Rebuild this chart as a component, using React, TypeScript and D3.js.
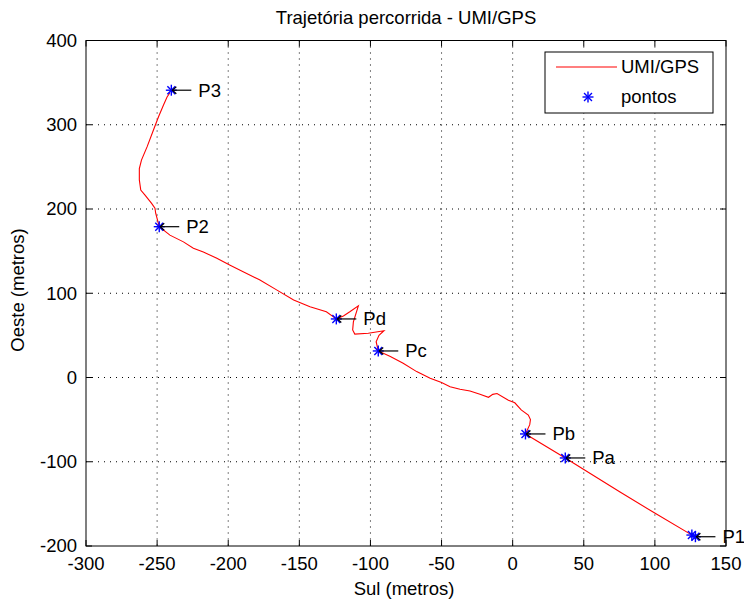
import React from "react";
import * as d3 from "d3";

const pathX = [127, 99, 75.5, 37, 9, 12, 12.5, 11, 6, 1.5, -3, -11, -14, -17, -23, -30, -37, -44, -50, -58, -67.5, -77, -86, -94.5, -96, -94, -90.5, -101.5, -111, -112.5, -112, -108.5, -114.5, -119, -124, -131, -142.5, -154, -166, -178, -189.5, -199, -208, -217.5, -224.5, -231.5, -241, -248.5, -251, -251.5, -254, -258.5, -261.5, -262.5, -262.5, -261, -257, -252.5, -249, -245.5, -243, -241];
const pathY = [-188, -160, -136, -95.5, -67, -56, -50, -44.5, -38.5, -30, -27, -19, -20, -23.5, -20, -16, -14, -11, -6, -1, 7, 17, 25, 31.5, 42.5, 50, 55.5, 52.5, 51.5, 56.5, 66, 85, 78, 73, 69.5, 78, 84, 92, 104, 116, 125.5, 133.5, 141.5, 149, 153.5, 161, 169, 179, 195, 201, 207, 216.5, 222.5, 234.5, 248, 258, 274, 294, 309.5, 323.5, 333, 338];

const pointX = [126, 128.5, 37, 9, -94.5, -124, -248.5, -240];
const pointY = [-187, -189, -95.5, -67, 31.5, 69.5, 179, 341];

const labelNames = ["P1", "Pa", "Pb", "Pc", "Pd", "P2", "P3"];
const labelX = [128.5, 37, 9, -94.5, -124, -248.5, -240];
const labelY = [-189, -95.5, -67, 31.5, 69.5, 179, 341];

const xTicks = [-300, -250, -200, -150, -100, -50, 0, 50, 100, 150];
const yTicks = [-200, -100, 0, 100, 200, 300, 400];

const titleText = "Trajetória percorrida - UMI/GPS";
const xLabel = "Sul (metros)";
const yLabel = "Oeste (metros)";
const legendNames = ["UMI/GPS", "pontos"];

const FONT = "'Liberation Sans', Arial, Helvetica, sans-serif";

function Star({ x, y, r = 5.5 }: { x: number; y: number; r?: number }) {
  const d = r * 0.72;
  return (
    <g stroke="#0000ff" strokeWidth={1.4}>
      <line x1={x - r} y1={y} x2={x + r} y2={y} />
      <line x1={x} y1={y - r} x2={x} y2={y + r} />
      <line x1={x - d} y1={y - d} x2={x + d} y2={y + d} />
      <line x1={x - d} y1={y + d} x2={x + d} y2={y - d} />
    </g>
  );
}

export default function App() {
  const L = 86, R = 726, T = 40.5, B = 546;
  const x = d3.scaleLinear().domain([-300, 150]).range([L, R]);
  const y = d3.scaleLinear().domain([-200, 400]).range([B, T]);

  const line = d3
    .line<number>()
    .x((_, i) => x(pathX[i]))
    .y((_, i) => y(pathY[i]));
  const pathD = line(pathX) || "";

  const tickLen = 6;
  const fs = 18.5;

  return (
    <svg
      width={744}
      height={603}
      style={{ position: "absolute", left: 0, top: 0, background: "#fff" }}
      fontFamily={FONT}
    >
      <rect x={0} y={0} width={744} height={603} fill="#fff" />
      {/* grid */}
      <g stroke="#000" strokeWidth={1} strokeDasharray="1,5">
        {xTicks.slice(1, -1).map((t) => (
          <line key={"gx" + t} x1={x(t)} x2={x(t)} y1={T} y2={B} />
        ))}
        {yTicks.slice(1, -1).map((t) => (
          <line key={"gy" + t} x1={L} x2={R} y1={y(t)} y2={y(t)} />
        ))}
      </g>
      {/* ticks */}
      <g stroke="#000" strokeWidth={1}>
        {xTicks.map((t) => (
          <g key={"tx" + t}>
            <line x1={x(t)} x2={x(t)} y1={B} y2={B - tickLen} />
            <line x1={x(t)} x2={x(t)} y1={T} y2={T + tickLen} />
          </g>
        ))}
        {yTicks.map((t) => (
          <g key={"ty" + t}>
            <line x1={L} x2={L + tickLen} y1={y(t)} y2={y(t)} />
            <line x1={R} x2={R - tickLen} y1={y(t)} y2={y(t)} />
          </g>
        ))}
      </g>
      {/* data */}
      <path d={pathD} fill="none" stroke="#ff0000" strokeWidth={1.1} />
      {pointX.map((px, i) => (
        <Star key={"s" + i} x={x(px)} y={y(pointY[i])} />
      ))}
      {/* annotations */}
      {labelNames.map((n, i) => {
        const cx = x(labelX[i]);
        const cy = y(labelY[i]);
        return (
          <g key={"a" + n}>
            <g stroke="#000" strokeWidth={1.2} fill="none">
              <line x1={cx + 1} y1={cy} x2={cx + 20} y2={cy} />
              <polyline points={`${cx + 5},${cy - 3.5} ${cx + 1},${cy} ${cx + 5},${cy + 3.5}`} />
            </g>
            <text x={cx + 27} y={cy} dy="0.35em" fontSize={fs} fill="#000">
              {n}
            </text>
          </g>
        );
      })}
      {/* box */}
      <rect x={L} y={T} width={R - L} height={B - T} fill="none" stroke="#000" strokeWidth={1} />
      {/* tick labels */}
      {xTicks.map((t) => (
        <text key={"lx" + t} x={x(t)} y={570} textAnchor="middle" fontSize={fs} fill="#000">
          {t}
        </text>
      ))}
      {yTicks.map((t) => (
        <text key={"ly" + t} x={77} y={y(t)} dy="0.35em" textAnchor="end" fontSize={fs} fill="#000">
          {t}
        </text>
      ))}
      {/* title & labels */}
      <text x={406} y={24} textAnchor="middle" fontSize={fs} fill="#000">
        {titleText}
      </text>
      <text x={404} y={595} textAnchor="middle" fontSize={fs} fill="#000">
        {xLabel}
      </text>
      <text
        transform={`translate(24,290) rotate(-90)`}
        textAnchor="middle"
        fontSize={fs}
        fill="#000"
      >
        {yLabel}
      </text>
      {/* legend */}
      <g>
        <rect x={545} y={52} width={168} height={61} fill="#fff" stroke="#000" strokeWidth={1} />
        <line x1={556} x2={617} y1={67} y2={67} stroke="#ff0000" strokeWidth={1.1} />
        <text x={621} y={67} dy="0.35em" fontSize={fs} fill="#000">
          {legendNames[0]}
        </text>
        <Star x={588} y={97} />
        <text x={621} y={97} dy="0.35em" fontSize={fs} fill="#000">
          {legendNames[1]}
        </text>
      </g>
    </svg>
  );
}
